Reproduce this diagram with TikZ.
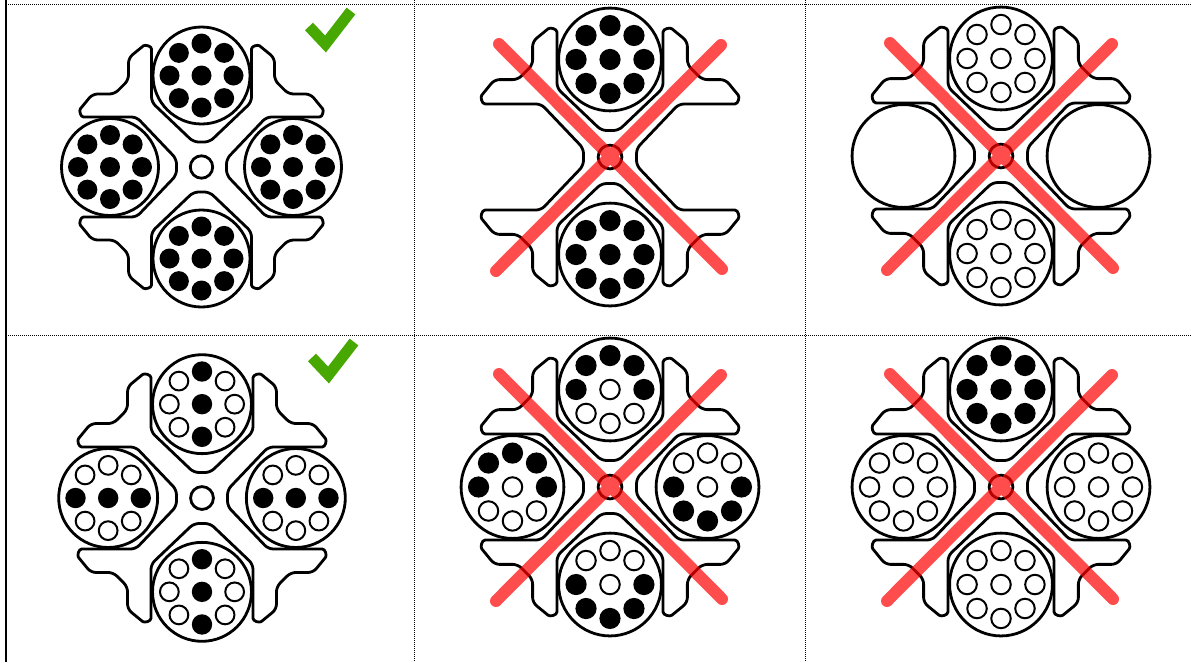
\documentclass[tikz,border=0pt]{standalone}
\definecolor{checkgreen}{HTML}{46A800}
\tikzset{
  outl/.style={draw=black,fill=white,line width=2.8pt,line join=round,rounded corners=5pt},
  disc/.style={draw=black,fill=white,line width=2.8pt},
  pin/.style={draw=black,fill=white,line width=2.8pt},
  hf/.style={fill=black,radius=10},
  ho/.style={draw=black,fill=white,line width=2pt,radius=9.2},
  cross/.style={draw=red,draw opacity=.7,line width=12pt,line cap=round},
  check/.style={draw=checkgreen,line width=11pt,line cap=butt,line join=miter},
  gridline/.style={draw=black,line width=1pt,dash pattern=on 1pt off 1pt},
}
\newcommand{\bodyshape}{%
  \path[outl]
    (-8,-25)--(-50,-65)--(-50,-113) .. controls (-50,-121) and (-56.5,-122.5) .. (-62,-118)--(-73,-109)--(-73,-87)--(-87,-73)--(-109,-73)--(-118,-62) .. controls (-122.5,-56.5) and (-121,-50) .. (-113,-50)--(-65,-50)--(-25,-8)
    --(-25,8)--(-65,50)--(-113,50) .. controls (-121,50) and (-122.5,56.5) .. (-118,62)--(-109,73)--(-87,73)--(-73,87)--(-73,109)--(-62,118) .. controls (-56.5,122.5) and (-50,121) .. (-50,113)--(-50,65)--(-8,25)
    --(8,25)--(50,65)--(50,113) .. controls (50,121) and (56.5,122.5) .. (62,118)--(73,109)--(73,87)--(87,73)--(109,73)--(118,62) .. controls (122.5,56.5) and (121,50) .. (113,50)--(65,50)--(25,8)
    --(25,-8)--(65,-50)--(113,-50) .. controls (121,-50) and (122.5,-56.5) .. (118,-62)--(109,-73)--(87,-73)--(73,-87)--(73,-109)--(62,-118) .. controls (56.5,-122.5) and (50,-121) .. (50,-113)--(50,-65)--(8,-25)--cycle;
  \path[pin] (0,0) circle (11.2);
}
% #1,#2 offset; #3 centre hole style; #4 ring styles clockwise from the top
\newcommand{\rotor}[4]{%
  \begin{scope}[shift={(#1,#2)}]
    \path[disc] (0,0) circle (48.5);
    \path[#3] (0,0) circle;
    \foreach \st [count=\i from 0, evaluate=\i as \a using -90+45*\i] in {#4}
      \path[\st] (\a:32) circle;
  \end{scope}
}
\newcommand{\blank}[2]{\path[disc] (#1,#2) circle (48.5);}
\newcommand{\redx}{%
  \path[cross] (-111,-113)--(112,112) (111,-112)--(-114,114);
}
\begin{document}
\begin{tikzpicture}[x=1pt,y=-1pt]
\useasboundingbox (0,0) rectangle (1191,662);
\fill[white] (0,0) rectangle (1191,662);
% grid
\path[gridline] (6,4)--(1191,4);
\path[gridline] (6,335)--(1191,335);
\path[gridline] (414,0)--(414,662);
\path[gridline] (805,0)--(805,662);
\fill[black] (5,0) rectangle (7,662);
% panel 1
\begin{scope}[shift={(201.5,167)},scale=1]
  \bodyshape
  \rotor{0}{-91.5}{hf}{hf,hf,hf,hf,hf,hf,hf,hf}
  \rotor{0}{91.5}{hf}{hf,hf,hf,hf,hf,hf,hf,hf}
  \rotor{-91.5}{0}{hf}{hf,hf,hf,hf,hf,hf,hf,hf}
  \rotor{91.5}{0}{hf}{hf,hf,hf,hf,hf,hf,hf,hf}
\end{scope}
\path[check] (309,26.5)--(325.5,44)--(351,11);
% panel 2
\begin{scope}[shift={(610,157)},scale=1.06]
  \bodyshape
  \rotor{0}{-92}{hf}{hf,hf,hf,hf,hf,hf,hf,hf}
  \rotor{0}{92}{hf}{hf,hf,hf,hf,hf,hf,hf,hf}
\end{scope}
\begin{scope}[shift={(610,157)}]\redx\end{scope}
% panel 3
\begin{scope}[shift={(1001,156)},scale=1.06]
  \bodyshape
  \rotor{0}{-92}{ho}{ho,ho,ho,ho,ho,ho,ho,ho}
  \rotor{0}{92}{ho}{ho,ho,ho,ho,ho,ho,ho,ho}
  \blank{-92}{0}
  \blank{92}{0}
\end{scope}
\begin{scope}[shift={(1001,156)}]\redx\end{scope}
% panel 4
\begin{scope}[shift={(202,498)},scale=1.02]
  \bodyshape
  \rotor{0}{-92}{hf}{hf,ho,ho,ho,hf,ho,ho,ho}
  \rotor{0}{92}{hf}{hf,ho,ho,ho,hf,ho,ho,ho}
  \rotor{-92}{0}{hf}{ho,ho,hf,ho,ho,ho,hf,ho}
  \rotor{92}{0}{hf}{ho,ho,hf,ho,ho,ho,hf,ho}
\end{scope}
\path[check] (312,357.5)--(328.5,375)--(354,342);
% panel 5
\begin{scope}[shift={(610,487)},scale=1.06]
  \bodyshape
  \rotor{0}{-92}{ho}{hf,hf,hf,ho,ho,ho,hf,hf}
  \rotor{0}{92}{ho}{ho,ho,hf,hf,hf,hf,hf,ho}
  \rotor{-92}{0}{ho}{hf,hf,hf,ho,ho,ho,hf,hf}
  \rotor{92}{0}{ho}{ho,ho,hf,hf,hf,hf,hf,ho}
\end{scope}
\begin{scope}[shift={(610,487)}]\redx\end{scope}
% panel 6
\begin{scope}[shift={(1001,487)},scale=1.06]
  \bodyshape
  \rotor{0}{-92}{hf}{hf,hf,hf,hf,hf,hf,hf,hf}
  \rotor{0}{92}{ho}{ho,ho,ho,ho,ho,ho,ho,ho}
  \rotor{-92}{0}{ho}{ho,ho,ho,ho,ho,ho,ho,ho}
  \rotor{92}{0}{ho}{ho,ho,ho,ho,ho,ho,ho,ho}
\end{scope}
\begin{scope}[shift={(1001,487)}]\redx\end{scope}
\end{tikzpicture}
\end{document}
